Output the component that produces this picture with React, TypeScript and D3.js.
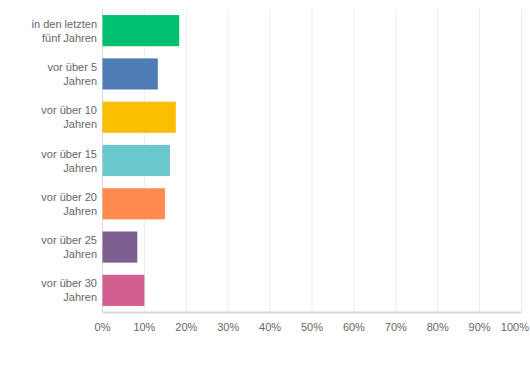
import React from "react";
import * as d3 from "d3";

const categories: string[][] = [
  ["in den letzten", "fünf Jahren"],
  ["vor über 5", "Jahren"],
  ["vor über 10", "Jahren"],
  ["vor über 15", "Jahren"],
  ["vor über 20", "Jahren"],
  ["vor über 25", "Jahren"],
  ["vor über 30", "Jahren"],
];
const values: number[] = [18.3, 13.2, 17.5, 16.1, 14.9, 8.3, 10.0];
const colors: string[] = ["#00BF6F", "#507CB6", "#F9BE00", "#6BC8CD", "#FF8B4F", "#7D5E90", "#D25F90"];
const ticks: number[] = [0, 10, 20, 30, 40, 50, 60, 70, 80, 90, 100];

export default function App() {
  const W = 530, H = 375;
  const left = 102.5, right = 521.5, top = 9, bottom = 312;
  const x = d3.scaleLinear().domain([0, 100]).range([left, right]);
  const y = d3.scaleBand<number>().domain(d3.range(categories.length)).range([top, bottom]).paddingInner(0.28).paddingOuter(0.14);
  const font = "'Liberation Sans', Arial, sans-serif";
  return (
    <svg width={W} height={H} style={{ position: "absolute", left: 0, top: 0, background: "#fff" }}>
      {ticks.map((t) => (
        <line key={"g" + t} x1={x(t)} x2={x(t)} y1={top} y2={bottom} stroke={t === 0 ? "#d9d9d9" : "#ececec"} strokeWidth={1} />
      ))}
      {values.map((v, i) => (
        <rect key={"b" + i} x={x(0)} y={y(i)} width={x(v) - x(0)} height={y.bandwidth()} fill={colors[i]} />
      ))}
      <line x1={left} x2={right} y1={bottom + 0.5} y2={bottom + 0.5} stroke="#d9d9d9" strokeWidth={2} />
      {categories.map((lines, i) => {
        const cy = (y(i) as number) + y.bandwidth() / 2;
        return (
          <text key={"l" + i} textAnchor="end" fontFamily={font} fontSize={11} fill="#666">
            {lines.map((ln, j) => (
              <tspan key={j} x={97} y={cy + (j - (lines.length - 1) / 2) * 14 + 4}>{ln}</tspan>
            ))}
          </text>
        );
      })}
      {ticks.map((t, i) => {
        const last = i === ticks.length - 1;
        return (
          <text key={"t" + t} x={last ? W - 1 : x(t)} y={330.5} textAnchor={last ? "end" : "middle"} fontFamily={font} fontSize={11} fill="#666">
            {t + "%"}
          </text>
        );
      })}
    </svg>
  );
}
